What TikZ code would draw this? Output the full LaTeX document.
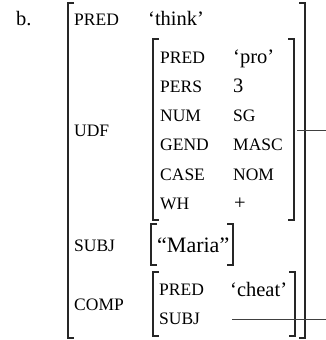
\documentclass[tikz,border=0pt]{standalone}
\usepackage{fontspec}
\setmainfont{Liberation Serif}
\newcommand\attrf{\fontsize{17.5}{18}\selectfont}
\newcommand\valf{\fontsize{20.5}{21}\selectfont}
\newcommand\bigvalf{\fontsize{22}{23}\selectfont}
\begin{document}
\begin{tikzpicture}[x=1pt,y=-1pt,
  brk/.style={draw=black!85,line width=1.3pt},
  conn/.style={draw=black!75,line width=0.8pt},
  attr/.style={anchor=base west,inner sep=0pt,font=\attrf},
  val/.style={anchor=base west,inner sep=0pt,font=\valf}]
\useasboundingbox (0,0) rectangle (325,340);
% brackets
\newcommand\lbrk[3]{\draw[brk] (#1+6,#2) -- (#1,#2) -- (#1,#3) -- (#1+6,#3);}
\newcommand\rbrk[3]{\draw[brk] (#1-6,#2) -- (#1,#2) -- (#1,#3) -- (#1-6,#3);}
\lbrk{68}{3}{338}\rbrk{305}{3}{338}
\lbrk{153}{39}{220}\rbrk{294}{39}{220}
\lbrk{151}{224}{265}\rbrk{233}{224}{265}
\lbrk{153}{272}{336}\rbrk{295}{272}{336}
% label
\node[val] (lab) at (16,25) {b.};
% outer rows
\node[attr] (pred) at (74,25) {PRED};
\node[val] (think) at (148,25) {‘think’};
\node[attr] (udf) at (74,136) {UDF};
\node[attr] (upred) at (160,63) {PRED};
\node[val] (upro) at (233,63) {‘pro’};
\node[attr] (upers) at (160,92) {PERS};
\node[val] (u3) at (233,92) {3};
\node[attr] (unum) at (160,121) {NUM};
\node[attr] (usg) at (233,121) {SG};
\node[attr] (ugend) at (160,150) {GEND};
\node[attr] (umasc) at (233,150) {MASC};
\node[attr] (ucase) at (160,180) {CASE};
\node[attr] (unom) at (233,180) {NOM};
\node[attr] (uwh) at (160,209) {WH};
\node[val] (uplus) at (234,209) {+};
\node[attr] (subj) at (74,251) {SUBJ};
\node[anchor=base west,inner sep=0pt,font=\bigvalf] (maria) at (157,252) {“Maria”};
\node[attr] (comp) at (74,310) {COMP};
\node[attr] (cpred) at (159,295) {PRED};
\node[val] (cheat) at (230,296) {‘cheat’};
\node[attr] (csubj) at (159,324) {SUBJ};
% connector
\coordinate (udfR) at (297,130);
\coordinate (subjV) at (232,319);
\coordinate (turn) at (327,130);
\draw[conn] (udfR) -- (turn) |- (subjV);
\end{tikzpicture}
\end{document}
